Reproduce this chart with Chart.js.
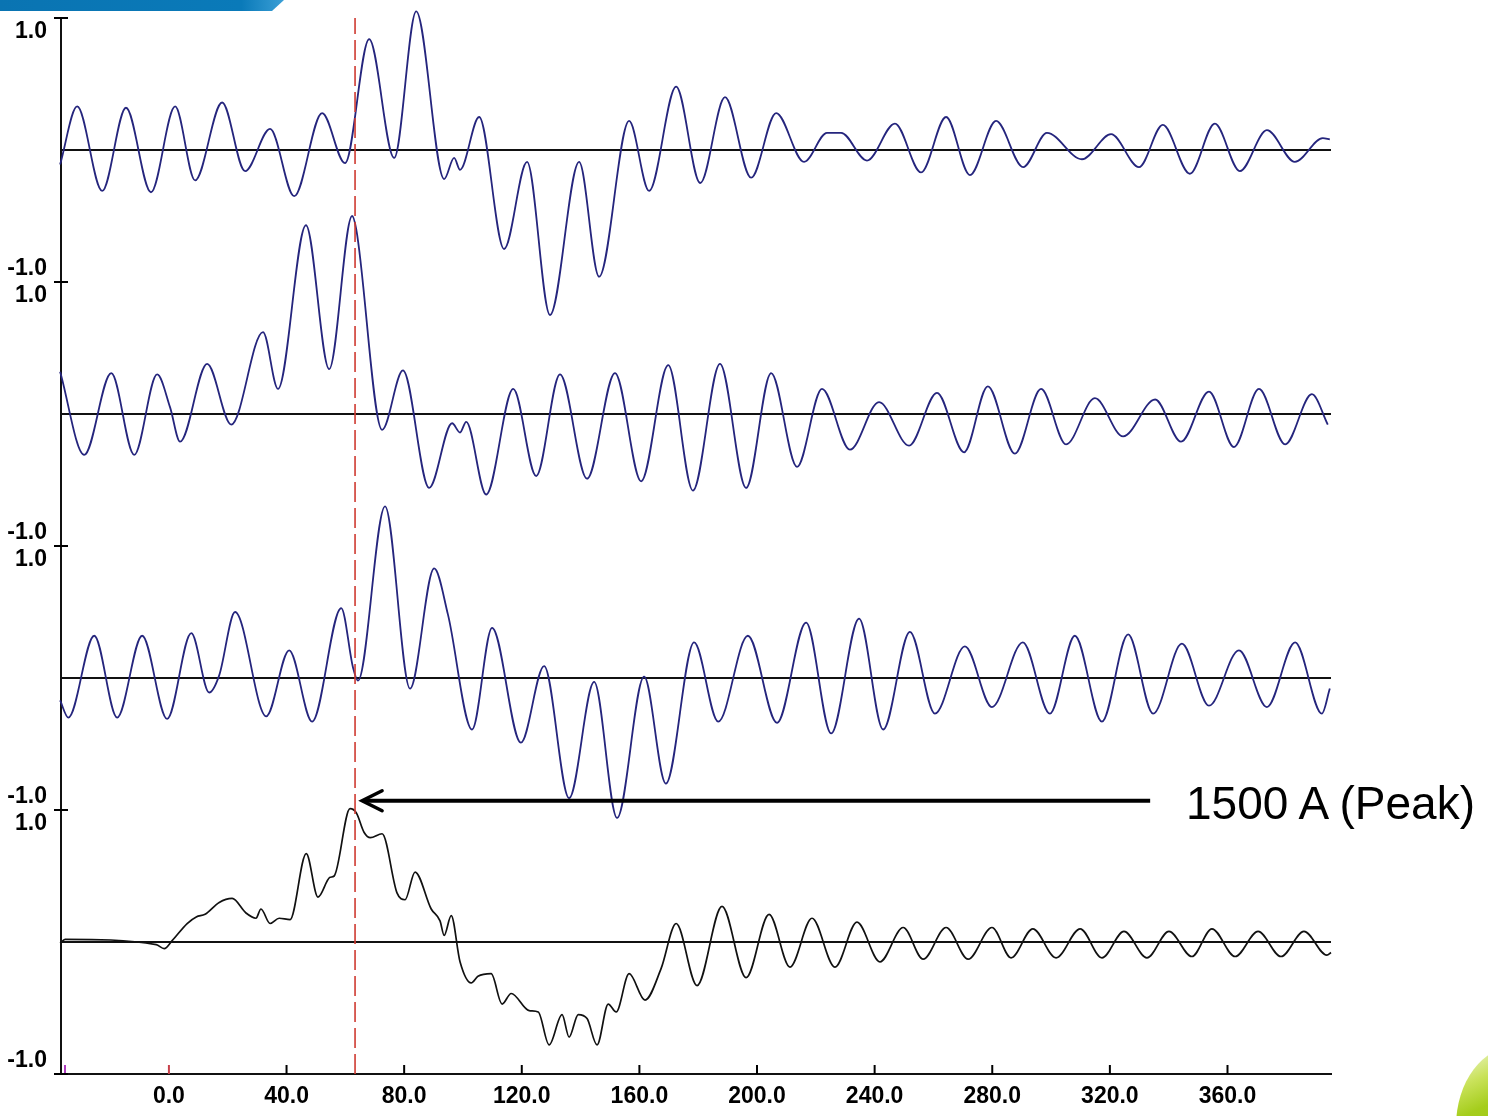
<!DOCTYPE html>
<html>
<head>
<meta charset="utf-8">
<script src="https://cdn.jsdelivr.net/npm/chart.js@4.4.1/dist/chart.umd.min.js"></script>
<style>
  html, body { margin: 0; padding: 0; background: #fff; }
  #wrap { position: relative; width: 1488px; height: 1116px; overflow: hidden; }
  #banner {
    position: absolute; left: 0; top: 0; width: 284px; height: 11px;
    background: linear-gradient(90deg, #0a74b2 0%, #0a7ab9 85%, #3b9fd6 100%);
    clip-path: polygon(0 0, 284px 0, 272px 11px, 0 11px);
  }
  #leaf {
    position: absolute; left: 1456px; top: 1046px; width: 70px; height: 90px;
    border-top-left-radius: 60px 80px;
    background: linear-gradient(155deg, #f6fae6 0%, #c9e25a 35%, #a5cd1c 60%, #9cc514 100%);
  }
  #note {
    position: absolute; left: 1186px; top: 780px;
    font: 46px/46px "Liberation Sans", Arial, sans-serif; color: #000; white-space: nowrap;
  }
</style>
</head>
<body>
<div id="wrap">
  <canvas id="grafico" width="1488" height="1116"></canvas>
  <div id="banner"></div>
  <div id="leaf"></div>
  <div id="note">1500 A (Peak)</div>
</div>
<script>
// eixos
const xTicks = [0, 40, 80, 120, 160, 200, 240, 280, 320, 360];
const yTicks = [0, 2, 4, 6, 8];
const yTickLabels = [['-1.0', ''], ['-1.0', '1.0'], ['-1.0', '1.0'], ['-1.0', '1.0'], ['', '1.0']];
const panelCenters = [7, 5, 3, 1];
const peakTime = 63.3;

// sinal 1 (topo)
const t1 = [-37.0, -31.2, -22.7, -14.6, -6.1, 2.1, 8.9, 18.1, 25.9, 34.4, 42.6, 52.1, 59.9, 68.1, 76.6, 84.1,
  93.6, 97.0, 99.0, 105.5, 114.0, 121.8, 129.6, 139.5, 146.3, 156.5, 163.3, 172.5, 180.7, 189.1, 198.0,
  206.5, 216.0, 223.8, 228.6, 237.4, 246.9, 255.8, 264.3, 272.4, 281.3, 290.5, 298.6, 310.5, 320.4,
  329.9, 338.0, 347.2, 355.7, 364.2, 373.4, 382.9, 392.4, 394.8];
const v1 = [-0.11, 0.33, -0.31, 0.32, -0.32, 0.33, -0.23, 0.36, -0.16, 0.16, -0.35, 0.28, -0.10, 0.84, -0.06, 1.05,
  -0.22, -0.06, -0.15, 0.25, -0.75, -0.09, -1.25, -0.09, -0.96, 0.22, -0.31, 0.48, -0.25, 0.40, -0.21,
  0.28, -0.09, 0.13, 0.13, -0.08, 0.20, -0.17, 0.25, -0.19, 0.22, -0.13, 0.13, -0.07, 0.12,
  -0.13, 0.19, -0.18, 0.20, -0.16, 0.15, -0.09, 0.09, 0.08];

// sinal 2
const t2 = [-37.0, -28.8, -19.6, -11.8, -4.0, 0.4, 3.8, 13.0, 21.2, 32.0, 37.1, 46.6, 54.5, 62.3, 63.7, 72.5,
  79.6, 88.5, 96.3, 99.0, 101.1, 107.9, 117.1, 124.9, 133.0, 142.2, 151.7, 160.6, 169.8, 178.2, 187.4,
  196.3, 204.8, 213.6, 222.1, 231.6, 241.5, 251.7, 261.2, 270.4, 278.5, 287.7, 296.6, 305.1, 314.9,
  324.5, 335.4, 344.2, 353.7, 362.2, 370.7, 379.6, 388.7, 394.1];
const v2 = [0.32, -0.31, 0.31, -0.31, 0.30, 0.05, -0.21, 0.38, -0.08, 0.62, 0.19, 1.43, 0.34, 1.50, 1.40, -0.12,
  0.33, -0.56, -0.07, -0.14, -0.06, -0.61, 0.19, -0.47, 0.30, -0.49, 0.31, -0.51, 0.37, -0.58, 0.38,
  -0.56, 0.31, -0.40, 0.19, -0.27, 0.09, -0.24, 0.16, -0.29, 0.21, -0.30, 0.19, -0.23, 0.12,
  -0.17, 0.11, -0.21, 0.17, -0.25, 0.19, -0.23, 0.15, -0.08];

// sinal 3
const t3 = [-37.0, -34.2, -25.4, -17.6, -9.1, -0.6, 7.6, 13.7, 17.1, 22.5, 33.1, 40.9, 48.7, 58.6, 62.6, 64.3,
  73.5, 82.0, 90.2, 94.9, 103.1, 109.9, 119.7, 127.6, 136.1, 144.6, 152.4, 161.6, 169.0, 178.6, 186.8,
  196.9, 206.8, 216.7, 225.2, 234.7, 242.9, 252.0, 260.5, 270.7, 279.9, 290.4, 299.6, 308.1, 317.3,
  326.2, 334.7, 344.5, 353.7, 363.9, 373.4, 383.0, 392.1, 394.8];
const v3 = [-0.17, -0.30, 0.32, -0.30, 0.32, -0.31, 0.34, -0.11, 0.02, 0.50, -0.29, 0.21, -0.33, 0.53, 0.08, -0.02,
  1.30, -0.08, 0.83, 0.48, -0.39, 0.38, -0.49, 0.09, -0.91, -0.03, -1.06, 0.01, -0.80, 0.27, -0.33,
  0.32, -0.34, 0.42, -0.42, 0.45, -0.39, 0.35, -0.27, 0.24, -0.22, 0.27, -0.27, 0.32, -0.33,
  0.33, -0.27, 0.26, -0.21, 0.21, -0.22, 0.27, -0.27, -0.08];

// sinal 4 (corrente)
const t4 = [-37.0, -35.3, -4.3, -1.6, 1.1, 6.2, 9.3, 12.3, 17.1, 21.5, 26.2, 29.6, 31.3, 34.4, 37.5, 41.2,
  46.7, 50.7, 54.8, 56.2, 61.6, 63.7, 66.4, 68.5, 72.5, 77.6, 80.3, 83.7, 89.2, 92.2, 93.6, 96.0,
  99.0, 102.8, 105.1, 109.6, 113.3, 116.4, 122.5, 125.6, 129.3, 133.7, 136.1, 139.2, 142.2, 145.6,
  149.4, 152.1, 156.5, 161.9, 167.4, 172.5, 179.6, 188.1, 196.3, 204.1, 211.2, 218.7, 226.5, 234.0,
  241.8, 249.7, 256.5, 264.3, 271.8, 279.9, 286.4, 293.8, 301.7, 309.9, 317.3, 324.8, 332.6, 340.1,
  347.9, 354.7, 362.6, 370.4, 378.2, 386.0, 393.8, 395.2];
const v4 = [-0.01, 0.02, -0.02, -0.05, 0.01, 0.14, 0.19, 0.21, 0.30, 0.33, 0.22, 0.18, 0.25, 0.14, 0.18, 0.17,
  0.67, 0.34, 0.49, 0.50, 1.01, 0.98, 0.83, 0.79, 0.82, 0.37, 0.32, 0.53, 0.25, 0.16, 0.05, 0.20,
  -0.15, -0.31, -0.26, -0.24, -0.47, -0.39, -0.52, -0.53, -0.78, -0.55, -0.72, -0.55, -0.58, -0.78,
  -0.47, -0.53, -0.24, -0.44, -0.20, 0.14, -0.33, 0.27, -0.27, 0.21, -0.19, 0.18, -0.19, 0.15,
  -0.15, 0.11, -0.13, 0.11, -0.13, 0.11, -0.12, 0.10, -0.12, 0.10, -0.12, 0.08, -0.12, 0.08,
  -0.11, 0.10, -0.11, 0.08, -0.11, 0.08, -0.10, -0.08];

const xMin = -36.7;
const xMax = 395.2;

function serie(t, v, centro) {
  return t.map((x, i) => ({ x: x, y: v[i] + centro }));
}

function traco(t, v, centro, cor, largura) {
  return {
    data: serie(t, v, centro),
    borderColor: cor,
    borderWidth: largura,
    pointRadius: 0,
    showLine: true,
    cubicInterpolationMode: 'monotone',
    clip: false
  };
}

const linhaPico = {
  data: [{ x: peakTime, y: yTicks[0] }, { x: peakTime, y: yTicks[yTicks.length - 1] }],
  borderColor: '#cf3b32',
  borderWidth: 1.6,
  borderDash: [20, 6],
  pointRadius: 0,
  showLine: true
};

const linhasBase = panelCenters.map(c => ({
  data: [{ x: xMin, y: c }, { x: xMax, y: c }],
  borderColor: '#111',
  borderWidth: 2,
  pointRadius: 0,
  showLine: true
}));

const datasets = [
  linhaPico,
  traco(t1, v1, panelCenters[0], '#25257d', 1.8),
  traco(t2, v2, panelCenters[1], '#25257d', 1.8),
  traco(t3, v3, panelCenters[2], '#25257d', 1.8),
  traco(t4, v4, panelCenters[3], '#111111', 1.7),
  ...linhasBase
];

/*seta e marcas dos eixos*/
const setaDe = 333.7;
const setaAte = 65.7;
const setaNivel = 2.07;

const extras = {
  id: 'extras',
  afterDraw(chart) {
    const { ctx, chartArea, scales: { x, y } } = chart;
    ctx.save();
    ctx.lineWidth = 2;
    xTicks.forEach(v => {
      const px = x.getPixelForValue(v);
      ctx.strokeStyle = v === 0 ? '#c8404a' : '#000';
      ctx.beginPath();
      ctx.moveTo(px, chartArea.bottom);
      ctx.lineTo(px, chartArea.bottom - 9);
      ctx.stroke();
    });
    ctx.strokeStyle = '#b03cc0';
    ctx.beginPath();
    ctx.moveTo(chartArea.left + 4, chartArea.bottom);
    ctx.lineTo(chartArea.left + 4, chartArea.bottom - 9);
    ctx.stroke();

    ctx.strokeStyle = '#000';
    yTicks.forEach(v => {
      const py = y.getPixelForValue(v);
      ctx.beginPath();
      ctx.moveTo(chartArea.left - 7, py);
      ctx.lineTo(chartArea.left + 7, py);
      ctx.stroke();
    });

    const ay = y.getPixelForValue(setaNivel);
    const x0 = x.getPixelForValue(setaDe);
    const x1 = x.getPixelForValue(setaAte);
    ctx.lineWidth = 4;
    ctx.beginPath();
    ctx.moveTo(x0, ay);
    ctx.lineTo(x1 + 2, ay);
    ctx.stroke();
    ctx.lineWidth = 3.5;
    ctx.lineCap = 'round';
    ctx.beginPath();
    ctx.moveTo(x1 + 20, ay - 10);
    ctx.lineTo(x1, ay);
    ctx.lineTo(x1 + 20, ay + 10);
    ctx.stroke();
    ctx.restore();
  }
};

const fonteEixo = { family: '"Liberation Sans", Arial, sans-serif', size: 23, weight: 'bold' };

const grafico = new Chart(document.getElementById('grafico').getContext('2d'), {
  type: 'scatter',
  data: { datasets: datasets },
  options: {
    responsive: false,
    animation: false,
    events: [],
    layout: { padding: { top: 18, right: 157, left: 0, bottom: 0 } },
    plugins: {
      legend: { display: false },
      tooltip: { enabled: false }
    },
    scales: {
      x: {
        type: 'linear',
        min: xMin,
        max: xMax,
        afterBuildTicks: axis => { axis.ticks = xTicks.map(v => ({ value: v })); },
        afterFit: axis => {
          axis.height = 42;
          axis.paddingLeft = 0;
          axis.paddingRight = 0;
        },
        grid: { drawOnChartArea: false, drawTicks: false },
        border: { display: true, color: '#111', width: 2 },
        ticks: {
          padding: 9,
          color: '#000',
          maxRotation: 0,
          autoSkip: false,
          font: { ...fonteEixo, lineHeight: 1.2 },
          callback: v => v.toFixed(1)
        }
      },
      y: {
        type: 'linear',
        min: yTicks[0],
        max: yTicks[yTicks.length - 1],
        afterBuildTicks: axis => { axis.ticks = yTicks.map(v => ({ value: v })); },
        afterFit: axis => {
          axis.width = 61;
          axis.paddingTop = 0;
          axis.paddingBottom = 0;
        },
        grid: { drawOnChartArea: false, drawTicks: false },
        border: { display: true, color: '#111', width: 2 },
        ticks: {
          padding: 14,
          color: '#000',
          autoSkip: false,
          font: { ...fonteEixo, lineHeight: 1.17 },
          callback: (v, i) => yTickLabels[i]
        }
      }
    }
  },
  plugins: [extras]
});
</script>
</body>
</html>
